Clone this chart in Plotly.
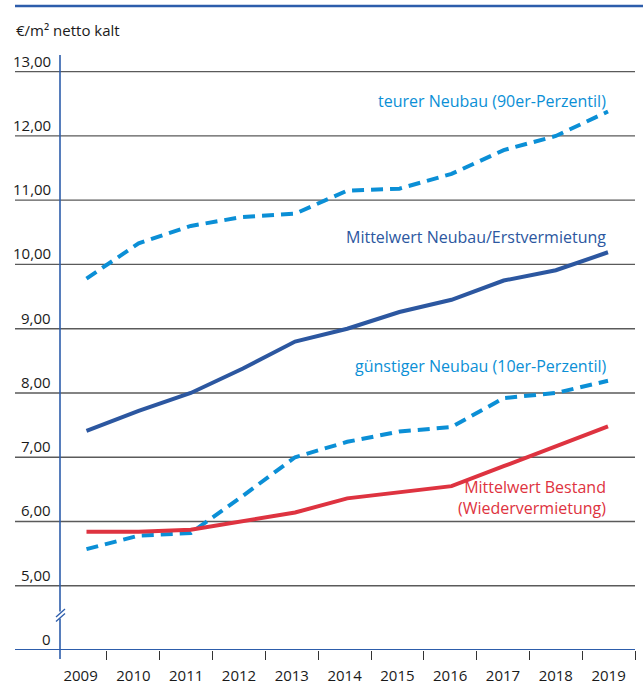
import plotly.graph_objects as go

# Mietpreise in €/m² netto kalt
years = [2009, 2010, 2011, 2012, 2013, 2014, 2015, 2016, 2017, 2018, 2019]
teurer_neubau = [9.78, 10.33, 10.60, 10.74, 10.79, 11.15, 11.18, 11.41, 11.78, 12.00, 12.38]
mittel_neubau = [7.41, 7.72, 8.00, 8.38, 8.80, 9.00, 9.26, 9.45, 9.75, 9.91, 10.19]
guenstig_neubau = [5.57, 5.78, 5.82, 6.40, 7.00, 7.24, 7.40, 7.47, 7.92, 8.00, 8.19]
mittel_bestand = [5.84, 5.84, 5.87, 6.00, 6.14, 6.36, 6.46, 6.55, 6.86, 7.17, 7.48]

y_grid = [5, 6, 7, 8, 9, 10, 11, 12, 13]
y_labels = ["5,00", "6,00", "7,00", "8,00", "9,00", "10,00", "11,00", "12,00", "13,00"]
y_base = 4          # position of the broken-axis "0"
y_base_label = "0"

DARK = "#2c57a0"
LIGHT = "#0b8fd6"
RED = "#de3340"
AXIS = "#2d5dab"
GRID = "#5a5a5a"
TEXT = "#1a1a1a"
FONT = "Open Sans"

W, H = 643, 686
L, R, T, B = 60, 8, 55, 35.5
plot_w = W - L - R
plot_h = H - T - B


def px_x(p):
    """page x pixel -> paper x"""
    return (p - L) / plot_w


def px_y(p):
    """page y pixel -> paper y"""
    return (H - B - p) / plot_h


fig = go.Figure()

series = [
    (teurer_neubau, LIGHT, "12px,7px"),
    (mittel_neubau, DARK, "solid"),
    (guenstig_neubau, LIGHT, "12px,7px"),
    (mittel_bestand, RED, "solid"),
]
for vals, col, dash in series:
    fig.add_trace(go.Scatter(
        x=years, y=vals, mode="lines",
        line=dict(color=col, width=4, dash=dash),
        xaxis="x", yaxis="y", showlegend=False, hoverinfo="skip",
    ))

# invisible trace carrying the year axis
fig.add_trace(go.Scatter(x=years, y=[None] * len(years), xaxis="x2", yaxis="y",
                         showlegend=False, hoverinfo="skip"))

shapes = []
# horizontal grid lines reaching under the tick labels
for g in y_grid:
    shapes.append(dict(type="line", xref="paper", yref="y", x0=px_x(15), x1=1,
                       y0=g, y1=g, line=dict(color=GRID, width=1.3), layer="below"))
# bottom axis line
shapes.append(dict(type="line", xref="paper", yref="y", x0=px_x(15), x1=1,
                   y0=y_base, y1=y_base, line=dict(color=AXIS, width=2), layer="above"))
# vertical axis line
shapes.append(dict(type="line", xref="paper", yref="paper", x0=0, x1=0,
                   y0=px_y(659.5), y1=1, line=dict(color=AXIS, width=1.6), layer="above"))
# axis break marker
shapes.append(dict(type="line", xref="paper", yref="paper", x0=0, x1=0,
                   y0=px_y(619), y1=px_y(612), line=dict(color="white", width=4), layer="above"))
for off in (0, 4.5):
    shapes.append(dict(type="line", xref="paper", yref="paper",
                       x0=px_x(56), x1=px_x(65),
                       y0=px_y(620 - off + 2), y1=px_y(615 - off - 1),
                       line=dict(color=AXIS, width=1.3), layer="above"))
# decorative rule at the top
shapes.append(dict(type="line", xref="paper", yref="paper", x0=px_x(15), x1=px_x(643),
                   y0=px_y(6), y1=px_y(6), line=dict(color=AXIS, width=2.5), layer="above"))

annotations = []
for g, lab in zip(y_grid + [y_base], y_labels + [y_base_label]):
    annotations.append(dict(xref="paper", yref="y", x=px_x(53), y=g, text=lab,
                            showarrow=False, xanchor="right", yanchor="middle", yshift=11,
                            font=dict(family=FONT, size=15, color=TEXT)))
annotations.append(dict(xref="paper", yref="paper", x=px_x(14), y=px_y(30),
                        text="€/m² netto kalt", showarrow=False, xanchor="left",
                        yanchor="middle", font=dict(family=FONT, size=15, color=TEXT)))

series_labels = [
    ("teurer Neubau (90er-Perzentil)", LIGHT, 101),
    ("Mittelwert Neubau/Erstvermietung", DARK, 236.7),
    ("günstiger Neubau (10er-Perzentil)", LIGHT, 366),
    ("Mittelwert Bestand<br>(Wiedervermietung)", RED, 497.5),
]
for text, col, py in series_labels:
    annotations.append(dict(xref="x", yref="paper", x=years[-1], y=px_y(py), text=text,
                            showarrow=False, xanchor="right", yanchor="middle", align="right",
                            font=dict(family=FONT, size=16, color=col)))

fig.update_layout(
    width=W, height=H,
    margin=dict(l=L, r=R, t=T, b=B, pad=0, autoexpand=False),
    paper_bgcolor="white", plot_bgcolor="white",
    xaxis=dict(range=[2008.492, 2019.518], visible=False, fixedrange=True, automargin=False),
    xaxis2=dict(
        overlaying="x", anchor="y", side="bottom",
        range=[2008.610, 2019.5], automargin=False,
        tickmode="array", tickvals=years, ticktext=[str(y) for y in years],
        ticks="", showgrid=False, zeroline=False, showline=False,
        ticklabelstandoff=15,
        tickfont=dict(family=FONT, size=15, color=TEXT),
        minor=dict(tickmode="array", tickvals=[y + 0.5 for y in years],
                   ticks="outside", ticklen=9, tickwidth=1.3, tickcolor="#333333",
                   showgrid=False),
    ),
    yaxis=dict(range=[y_base, 13.26], visible=False, fixedrange=True, automargin=False),
    shapes=shapes,
    annotations=annotations,
)

fig.write_html("out.html")
